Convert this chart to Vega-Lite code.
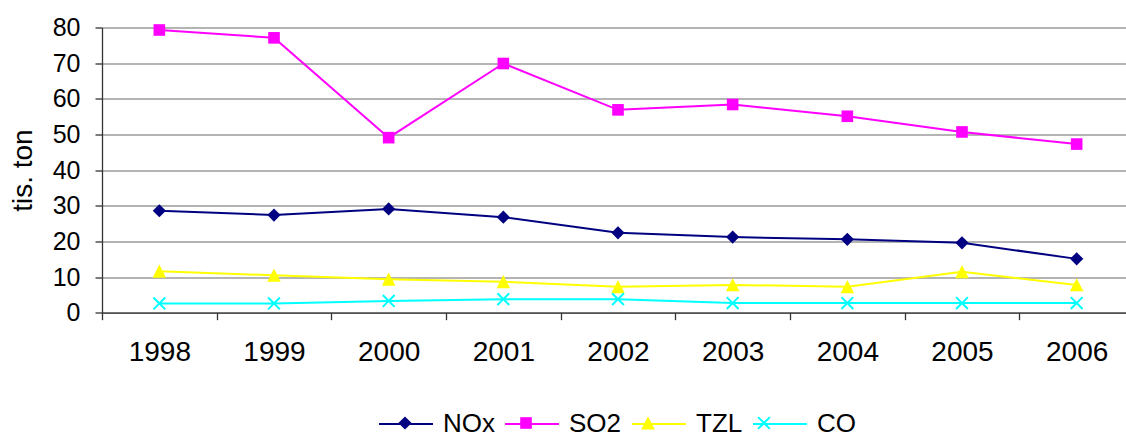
{
  "$schema": "https://vega.github.io/schema/vega-lite/v6.json",
  "width": 1032,
  "height": 285.2,
  "autosize": {"type": "none"},
  "padding": {"left": 102, "top": 27.5, "right": -8, "bottom": 120.3},
  "background": "white",
  "config": {"font": "Liberation Sans", "view": {"stroke": null}},
  "data": {"values": [
    {"year": "1998", "series": "NOx", "value": 28.6},
    {"year": "1999", "series": "NOx", "value": 27.4},
    {"year": "2000", "series": "NOx", "value": 29.1},
    {"year": "2001", "series": "NOx", "value": 26.8},
    {"year": "2002", "series": "NOx", "value": 22.4},
    {"year": "2003", "series": "NOx", "value": 21.2},
    {"year": "2004", "series": "NOx", "value": 20.6},
    {"year": "2005", "series": "NOx", "value": 19.6},
    {"year": "2006", "series": "NOx", "value": 15.1},
    {"year": "1998", "series": "SO2", "value": 79.3},
    {"year": "1999", "series": "SO2", "value": 77.1},
    {"year": "2000", "series": "SO2", "value": 49.1},
    {"year": "2001", "series": "SO2", "value": 69.9},
    {"year": "2002", "series": "SO2", "value": 56.9},
    {"year": "2003", "series": "SO2", "value": 58.4},
    {"year": "2004", "series": "SO2", "value": 55.1},
    {"year": "2005", "series": "SO2", "value": 50.7},
    {"year": "2006", "series": "SO2", "value": 47.3},
    {"year": "1998", "series": "TZL", "value": 11.6},
    {"year": "1999", "series": "TZL", "value": 10.5},
    {"year": "2000", "series": "TZL", "value": 9.4},
    {"year": "2001", "series": "TZL", "value": 8.7},
    {"year": "2002", "series": "TZL", "value": 7.3},
    {"year": "2003", "series": "TZL", "value": 7.8},
    {"year": "2004", "series": "TZL", "value": 7.3},
    {"year": "2005", "series": "TZL", "value": 11.5},
    {"year": "2006", "series": "TZL", "value": 7.8},
    {"year": "1998", "series": "CO", "value": 2.6},
    {"year": "1999", "series": "CO", "value": 2.6},
    {"year": "2000", "series": "CO", "value": 3.3},
    {"year": "2001", "series": "CO", "value": 3.8},
    {"year": "2002", "series": "CO", "value": 3.8},
    {"year": "2003", "series": "CO", "value": 2.7},
    {"year": "2004", "series": "CO", "value": 2.7},
    {"year": "2005", "series": "CO", "value": 2.7},
    {"year": "2006", "series": "CO", "value": 2.7}
  ]},
  "encoding": {
    "x": {
      "field": "year", "type": "ordinal",
      "scale": {"type": "band", "paddingInner": 0, "paddingOuter": 0},
      "axis": {
        "title": null, "tickBand": "extent", "tickSize": 7, "labelAngle": 0,
        "labelFontSize": 28, "labelBaseline": "alphabetic", "labelPadding": 40.6,
        "labelColor": "black", "domainColor": "#333333", "tickColor": "#333333",
        "domainWidth": 1.3, "tickWidth": 1.3, "grid": false
      }
    },
    "y": {
      "field": "value", "type": "quantitative",
      "scale": {"domain": [0, 80], "nice": false},
      "axis": {
        "title": "tis. ton", "values": [0, 10, 20, 30, 40, 50, 60, 70, 80],
        "tickSize": 7, "labelPadding": 15, "labelFontSize": 25, "labelColor": "black",
        "grid": true, "gridColor": "#6a6a6a", "gridWidth": 1.2,
        "domainColor": "#333333", "tickColor": "#333333", "domainWidth": 1.3, "tickWidth": 1.3,
        "titleFontSize": 28, "titleFontWeight": "normal", "titleColor": "black",
        "titleX": -70.3, "titleY": 142.6, "titleAngle": -90,
        "titleBaseline": "alphabetic", "titleAlign": "center"
      }
    }
  },
  "layer": [
    {
      "mark": {"type": "line", "strokeWidth": 2},
      "encoding": {
        "color": {
          "field": "series", "type": "nominal",
          "scale": {"domain": ["NOx", "SO2", "TZL", "CO"], "range": ["#000080", "#FF00FF", "#FFFF00", "#00FFFF"]},
          "legend": {
            "orient": "none", "legendX": 276, "legendY": 368.5, "direction": "horizontal",
            "title": null, "symbolType": "M-1,0H1", "symbolSize": 2916, "symbolStrokeWidth": 2,
            "symbolFillColor": "transparent",
            "labelFontSize": 26, "labelOffset": 9, "columnPadding": 6, "padding": 0,
            "labelColor": "black"
          }
        }
      }
    },
    {
      "mark": {"type": "point", "filled": true, "size": 2916, "opacity": 1, "strokeWidth": 0},
      "encoding": {
        "color": {
          "field": "series", "type": "nominal",
          "legend": {
            "orient": "none", "legendX": 276, "legendY": 368.5, "direction": "horizontal",
            "title": null, "symbolSize": 2916, "symbolStrokeWidth": 0,
            "labelFontSize": 26, "labelOffset": 9, "columnPadding": 6, "padding": 0,
            "labelColor": "black", "labelOpacity": 0
          }
        },
        "shape": {
          "field": "series", "type": "nominal",
          "scale": {"domain": ["NOx", "SO2", "TZL", "CO"], "range": [
            "M0,-0.245L0.245,0L0,0.245L-0.245,0Z",
            "M-0.215,-0.215H0.215V0.215H-0.215Z",
            "M0,-0.25L0.25,0.24L-0.25,0.24Z",
            "M0,-0.052L0.193,-0.245L0.245,-0.193L0.052,0L0.245,0.193L0.193,0.245L0,0.052L-0.193,0.245L-0.245,0.193L-0.052,0L-0.245,-0.193L-0.193,-0.245Z"
          ]},
          "legend": {
            "orient": "none", "legendX": 276, "legendY": 368.5, "direction": "horizontal",
            "title": null, "symbolSize": 2916, "symbolStrokeWidth": 0,
            "labelFontSize": 26, "labelOffset": 9, "columnPadding": 6, "padding": 0,
            "labelColor": "black", "labelOpacity": 0
          }
        }
      }
    }
  ],
  "resolve": {"legend": {"color": "independent", "shape": "independent"}}
}
